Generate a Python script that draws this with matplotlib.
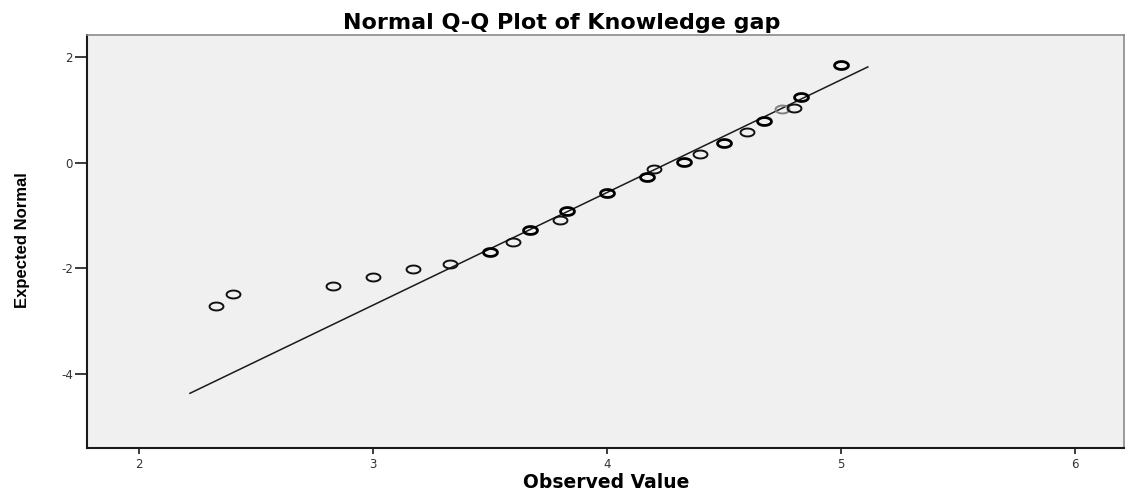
import numpy as np
import matplotlib
matplotlib.use("Agg")
import matplotlib.pyplot as plt
from matplotlib.path import Path

plt.rcParams['axes.unicode_minus'] = False

# ---- data ----
observed = [2.33, 2.40, 2.83, 3.00, 3.17, 3.33, 3.50, 3.60, 3.67, 3.80, 3.83,
            4.00, 4.17, 4.20, 4.33, 4.40, 4.50, 4.60, 4.67, 4.75, 4.80, 4.83, 5.00]
expected = [-2.71, -2.48, -2.33, -2.16, -2.01, -1.91, -1.69, -1.51, -1.27, -1.08, -0.92,
            -0.58, -0.28, -0.12, 0.02, 0.17, 0.38, 0.59, 0.79, 1.02, 1.04, 1.25, 1.85]
# number of overlapping cases (drawn darker/thicker when > 1)
overlap = [1, 1, 1, 1, 1, 1, 2, 1, 2, 1, 2,
           2, 2, 1, 2, 1, 2, 1, 2, 0, 1, 2, 2]
line_mean = 4.265
line_sd = 0.469
line_x_range = [2.218, 5.115]
xticks = [2, 3, 4, 5, 6]
yticks = [-4, -2, 0, 2]

title = "Normal Q-Q Plot of Knowledge gap"
xlabel = "Observed Value"
ylabel = "Expected Normal"

# ---- figure ----
W, H = 1126, 493
fig = plt.figure(figsize=(W/100, H/100), dpi=100)
ax = fig.add_axes([87/W, 1-448/H, (1124-87)/W, (448-35)/H])
ax.set_facecolor("#f0f0f0")

# elliptical open marker
t = np.linspace(0, 2*np.pi, 60)
ell = Path(np.column_stack([np.cos(t), 0.57*np.sin(t)]), closed=True)

for x, y, k in zip(observed, expected, overlap):
    if k >= 2:
        ec, lw = "#000000", 2.0
    elif k == 1:
        ec, lw = "#111111", 1.4
    else:
        ec, lw = "#808080", 1.4
    ax.plot([x], [y], linestyle="none", marker=ell, markersize=10,
            markerfacecolor="none", markeredgecolor=ec, markeredgewidth=lw, zorder=3)

lx = np.array(line_x_range)
ax.plot(lx, (lx - line_mean) / line_sd, color="#1a1a1a", lw=1.1, zorder=2)

ax.set_xlim(1.778, 6.21)
ax.set_ylim(-5.40, 2.417)
ax.set_xticks(xticks)
ax.set_yticks(yticks)
ax.set_xticklabels([str(v) for v in xticks])
ax.set_yticklabels([str(v) for v in yticks])

for s in ["left", "bottom"]:
    ax.spines[s].set_color("#1a1a1a")
    ax.spines[s].set_linewidth(1.5)
for s in ["top", "right"]:
    ax.spines[s].set_color("#8a8a8a")
    ax.spines[s].set_linewidth(1.2)

ax.tick_params(axis="y", direction="out", length=9, width=1.2, pad=1,
               labelsize=8.5, colors="#1a1a1a", labelcolor="#333333")
ax.tick_params(axis="x", direction="out", length=4.5, width=1.2, pad=3,
               labelsize=8.5, colors="#1a1a1a", labelcolor="#333333")

fig.text(562/W, 1-29/H, title, ha="center", va="baseline",
         fontsize=16, fontweight="bold", family="DejaVu Sans")
fig.text(606/W, 1-487.5/H, xlabel, ha="center", va="baseline",
         fontsize=13.5, fontweight="bold", family="DejaVu Sans")
fig.text(23/W, 1-240/H, ylabel, ha="center", va="center", rotation=90,
         fontsize=12, fontweight="bold",
         family=["Liberation Sans Narrow", "Liberation Sans", "DejaVu Sans"])

fig.savefig("out.png", dpi=100, facecolor="white")
